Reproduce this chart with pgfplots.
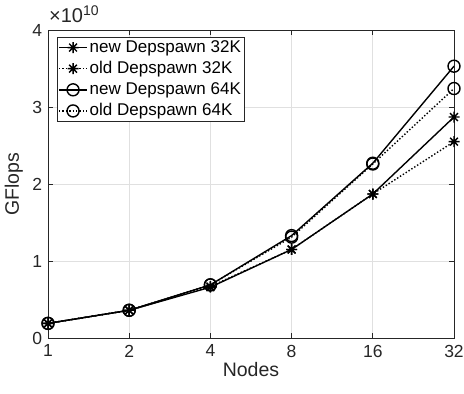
\documentclass[border=0pt]{standalone}
\usepackage{fontspec}
\setmainfont{Liberation Sans}
\usepackage{pgfplots}
\pgfplotsset{compat=1.18}
\definecolor{axgray}{rgb}{0.15,0.15,0.15}
\definecolor{gridgray}{rgb}{0.88,0.88,0.88}
\pgfdeclareplotmark{mstar}{%
  \pgfpathmoveto{\pgfqpoint{-\pgfplotmarksize}{0pt}}\pgfpathlineto{\pgfqpoint{\pgfplotmarksize}{0pt}}%
  \pgfpathmoveto{\pgfqpoint{0pt}{-\pgfplotmarksize}}\pgfpathlineto{\pgfqpoint{0pt}{\pgfplotmarksize}}%
  \pgfpathmoveto{\pgfqpoint{-0.707\pgfplotmarksize}{-0.707\pgfplotmarksize}}\pgfpathlineto{\pgfqpoint{0.707\pgfplotmarksize}{0.707\pgfplotmarksize}}%
  \pgfpathmoveto{\pgfqpoint{-0.707\pgfplotmarksize}{0.707\pgfplotmarksize}}\pgfpathlineto{\pgfqpoint{0.707\pgfplotmarksize}{-0.707\pgfplotmarksize}}%
  \pgfusepathqstroke}
\begin{document}
\fontsize{17bp}{20bp}\selectfont
\begin{tikzpicture}
\begin{axis}[
  name=ax,
  at={(0,0)}, anchor=south west,
  scale only axis, width=406bp, height=308bp,
  xmode=log, log basis x=2,
  xmin=1, xmax=32, ymin=0, ymax=4,
  xtick={1,2,4,8,16,32}, xticklabels={1,2,4,8,16,32},
  ytick={0,1,2,3,4}, yticklabels={0,1,2,3,4},
  /pgf/number format/assume math mode=true,
  grid=major,
  major grid style={gridgray, line width=0.7bp},
  axis line style={axgray, line width=0.9bp},
  tick style={axgray, line width=0.9bp},
  major tick length=5bp,
  tick align=inside,
  xtick pos=both, ytick pos=both,
  ticklabel style={text=axgray, font=\fontsize{17.5bp}{20bp}\selectfont},
  xticklabel style={yshift=-1bp},
  xlabel={Nodes}, ylabel={GFlops},
  label style={text=axgray, font=\fontsize{19.5bp}{22bp}\selectfont},
  xlabel style={yshift=6bp},
  ylabel style={yshift=-2bp},
  legend style={at={(rel axis cs:0,1)}, anchor=north west, xshift=9bp, yshift=-7bp,
    draw=axgray, line width=0.7bp, inner sep=1bp, row sep=2.5bp,
    cells={anchor=west}, font=\fontsize{17bp}{20bp}\selectfont},
  legend cell align=left,
  legend image code/.code={\draw[mark repeat=2,mark phase=2,#1] plot coordinates {(0bp,0bp) (14bp,0bp) (28bp,0bp)};},
]
\addplot[black, line width=1.4bp, mark=mstar, mark size=5.5bp, mark options={solid, line width=1.4bp}]
  coordinates {(1,0.19) (2,0.36) (4,0.66) (8,1.15) (16,1.87) (32,2.87)};
\addlegendentry{new Depspawn 32K}
\addplot[black, line width=1.4bp, dotted, mark=mstar, mark size=5.5bp, mark options={solid, line width=1.4bp}]
  coordinates {(1,0.19) (2,0.36) (4,0.67) (8,1.15) (16,1.87) (32,2.55)};
\addlegendentry{old Depspawn 32K}
\addplot[black, line width=1.4bp, mark=o, mark size=6bp, mark options={solid, line width=1.4bp}]
  coordinates {(1,0.19) (2,0.36) (4,0.69) (8,1.33) (16,2.27) (32,3.53)};
\addlegendentry{new Depspawn 64K}
\addplot[black, line width=1.4bp, dotted, mark=o, mark size=6bp, mark options={solid, line width=1.4bp}]
  coordinates {(1,0.19) (2,0.36) (4,0.69) (8,1.31) (16,2.26) (32,3.24)};
\addlegendentry{old Depspawn 64K}
\end{axis}
\node[anchor=south west, text=axgray, inner sep=0pt, font=\fontsize{20bp}{22bp}\selectfont] at ([xshift=1bp,yshift=7bp]ax.north west) {×10\textsuperscript{10}};
\pgfresetboundingbox
\path[use as bounding box] (-48bp,-56bp) rectangle (416bp,338bp);
\end{tikzpicture}
\end{document}
